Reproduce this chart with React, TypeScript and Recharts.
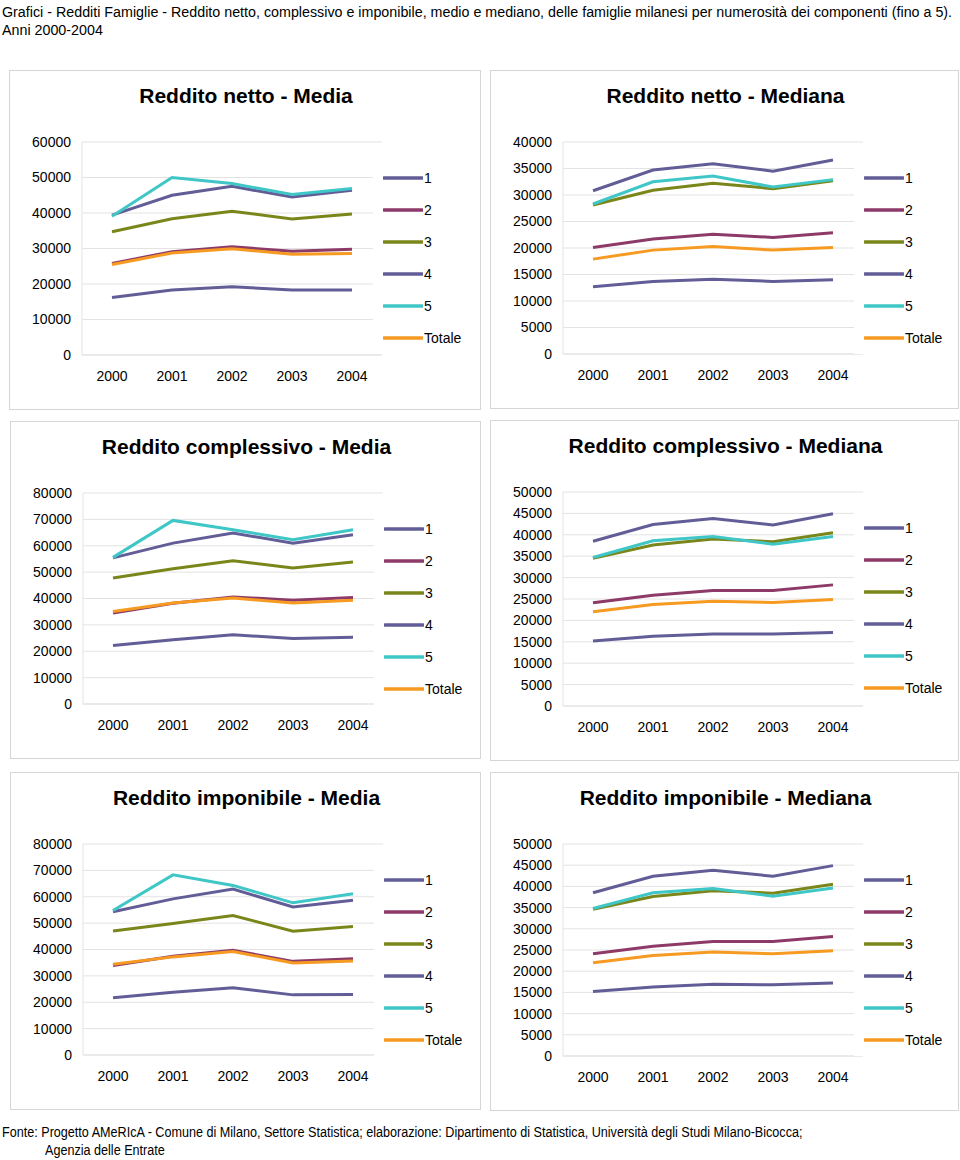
import { LineChart, Line, XAxis, YAxis, CartesianGrid, Legend } from "recharts";

const years = ["2000", "2001", "2002", "2003", "2004"];
const seriesNames = ["1", "2", "3", "4", "5", "Totale"];
const seriesColors = ["#625d97", "#8e3a68", "#7b861a", "#625d97", "#3fc6c6", "#f69a22"];

// one row per series, in the order of seriesNames
const nettoMedia = [
  [16200, 18300, 19200, 18300, 18300],
  [25800, 29100, 30500, 29200, 29800],
  [34700, 38400, 40500, 38300, 39700],
  [39400, 45000, 47500, 44500, 46400],
  [39100, 50000, 48300, 45200, 46900],
  [25500, 28700, 29900, 28400, 28600],
];
const nettoMediana = [
  [12700, 13700, 14100, 13700, 14000],
  [20100, 21700, 22600, 22000, 22900],
  [28100, 30900, 32200, 31200, 32700],
  [30800, 34700, 35900, 34500, 36600],
  [28300, 32500, 33600, 31500, 32900],
  [17900, 19600, 20300, 19600, 20100],
];
const complessivoMedia = [
  [22200, 24400, 26300, 24800, 25300],
  [34500, 38200, 40600, 39300, 40400],
  [47800, 51300, 54300, 51600, 53800],
  [55400, 61000, 64800, 61000, 64200],
  [55600, 69600, 66100, 62300, 66100],
  [35100, 38300, 40200, 38300, 39300],
];
const complessivoMediana = [
  [15200, 16300, 16800, 16800, 17200],
  [24100, 25900, 27000, 27000, 28300],
  [34500, 37600, 39000, 38400, 40500],
  [38500, 42400, 43800, 42300, 44900],
  [34700, 38600, 39600, 37800, 39600],
  [22000, 23700, 24500, 24200, 24900],
];
const imponibileMedia = [
  [21700, 23800, 25500, 22800, 22900],
  [33900, 37400, 39700, 35500, 36500],
  [47000, 49900, 52900, 46900, 48700],
  [54300, 59200, 62900, 56100, 58700],
  [54800, 68300, 64300, 57700, 61100],
  [34400, 37200, 39200, 34900, 35600],
];
const imponibileMediana = [
  [15200, 16300, 16900, 16800, 17200],
  [24100, 25900, 27000, 27000, 28200],
  [34600, 37600, 39000, 38400, 40500],
  [38500, 42400, 43800, 42400, 44900],
  [34800, 38500, 39500, 37700, 39600],
  [22000, 23700, 24500, 24100, 24800],
];

const ticks60 = [0, 10000, 20000, 30000, 40000, 50000, 60000];
const ticks40 = [0, 5000, 10000, 15000, 20000, 25000, 30000, 35000, 40000];
const ticks80 = [0, 10000, 20000, 30000, 40000, 50000, 60000, 70000, 80000];
const ticks50 = [0, 5000, 10000, 15000, 20000, 25000, 30000, 35000, 40000, 45000, 50000];

const FONT = "'Liberation Sans', Arial, Helvetica, sans-serif";

const renderLegend = (props: any) => (
  <div style={{ display: "flex", flexDirection: "column", paddingLeft: 10 }}>
    {(props.payload || []).map((p: any) => (
      <div key={p.value} style={{ height: 32, display: "flex", alignItems: "center" }}>
        <svg width={40} height={6}>
          <line x1={1} x2={39} y1={3} y2={3} stroke={p.color} strokeWidth={3.5} strokeLinecap="round" />
        </svg>
        <span style={{ marginLeft: 1, fontSize: 14, fontFamily: FONT, color: "#000" }}>{p.value}</span>
      </div>
    ))}
  </div>
);

type PanelProps = {
  title: string;
  values: number[][];
  ticks: number[];
  x: number;
  y: number;
  w: number;
  h: number;
};

const Panel = ({ title, values, ticks, x, y, w, h }: PanelProps) => {
  const data = years.map((yr, i) => {
    const row: Record<string, number | string> = { year: yr };
    values.forEach((s, k) => (row["s" + k] = s[i]));
    return row;
  });
  const plotW = 300;
  return (
    <div
      style={{
        position: "absolute",
        left: x,
        top: y,
        width: w,
        height: h,
        border: "1px solid #d6d6d6",
        boxSizing: "border-box",
        background: "#fff",
      }}
    >
      <div
        style={{
          position: "absolute",
          left: 0,
          width: w,
          top: 13,
          textAlign: "center",
          fontFamily: FONT,
          fontWeight: "bold",
          fontSize: 21,
          color: "#000",
        }}
      >
        {title}
      </div>
      <div style={{ position: "absolute", left: -1, top: -1 }}>
        <LineChart
          width={w}
          height={h}
          data={data}
          margin={{ top: 72, right: w - 73 - plotW, bottom: 25, left: 0 }}
        >
          <CartesianGrid vertical={false} stroke="#e3e3e3" />
          <XAxis
            dataKey="year"
            height={30}
            padding={{ left: 30, right: 30 }}
            axisLine={{ stroke: "#e3e3e3" }}
            tickLine={false}
            tickSize={0}
            tickMargin={16}
            tick={{ fill: "#000", fontSize: 14, fontFamily: FONT }}
          />
          <YAxis
            width={73}
            domain={[0, ticks[ticks.length - 1]]}
            ticks={ticks}
            interval={0}
            axisLine={{ stroke: "#e3e3e3" }}
            tickLine={false}
            tickSize={0}
            tickMargin={11}
            tick={{ fill: "#000", fontSize: 14, fontFamily: FONT }}
          />
          {values.map((_, k) => (
            <Line
              key={k}
              dataKey={"s" + k}
              name={seriesNames[k]}
              stroke={seriesColors[k]}
              strokeWidth={3}
              dot={false}
              activeDot={false}
              isAnimationActive={false}
            />
          ))}
          <Legend
            layout="vertical"
            align="center"
            verticalAlign="middle"
            content={renderLegend}
            wrapperStyle={{ left: 364, top: 92, width: w - 364 - 4, background: "#fff" }}
          />
        </LineChart>
      </div>
    </div>
  );
};

const pageLine = (scale: number) => ({
  fontFamily: FONT,
  fontSize: 14,
  color: "#000",
  lineHeight: "18px",
  whiteSpace: "nowrap" as const,
  transform: `scaleX(${scale})`,
  transformOrigin: "left center",
});

export default function App() {
  return (
    <div style={{ position: "absolute", left: 0, top: 0, width: 960, height: 1160, background: "#fff" }}>
      <div style={{ position: "absolute", left: 2, top: 3 }}>
        <div style={pageLine(1.02)}>
          Grafici - Redditi Famiglie - Reddito netto, complessivo e imponibile, medio e mediano, delle famiglie milanesi per numerosità dei componenti (fino a 5).
        </div>
        <div style={pageLine(1.02)}>Anni 2000-2004</div>
      </div>

      <Panel title="Reddito netto - Media" values={nettoMedia} ticks={ticks60} x={9} y={70} w={472} h={340} />
      <Panel title="Reddito netto - Mediana" values={nettoMediana} ticks={ticks40} x={490} y={70} w={469} h={339} />
      <Panel title="Reddito complessivo - Media" values={complessivoMedia} ticks={ticks80} x={10} y={421} w={471} h={338} />
      <Panel title="Reddito complessivo - Mediana" values={complessivoMediana} ticks={ticks50} x={490} y={420} w={469} h={341} />
      <Panel title="Reddito imponibile - Media" values={imponibileMedia} ticks={ticks80} x={10} y={772} w={471} h={338} />
      <Panel title="Reddito imponibile - Mediana" values={imponibileMediana} ticks={ticks50} x={490} y={772} w={469} h={339} />

      <div style={{ position: "absolute", left: 2, top: 1123 }}>
        <div style={pageLine(0.9)}>
          Fonte: Progetto AMeRIcA - Comune di Milano, Settore Statistica; elaborazione: Dipartimento di Statistica, Università degli Studi Milano-Bicocca;
        </div>
        <div style={{ ...pageLine(0.9), marginLeft: 43 }}>Agenzia delle Entrate</div>
      </div>
    </div>
  );
}
